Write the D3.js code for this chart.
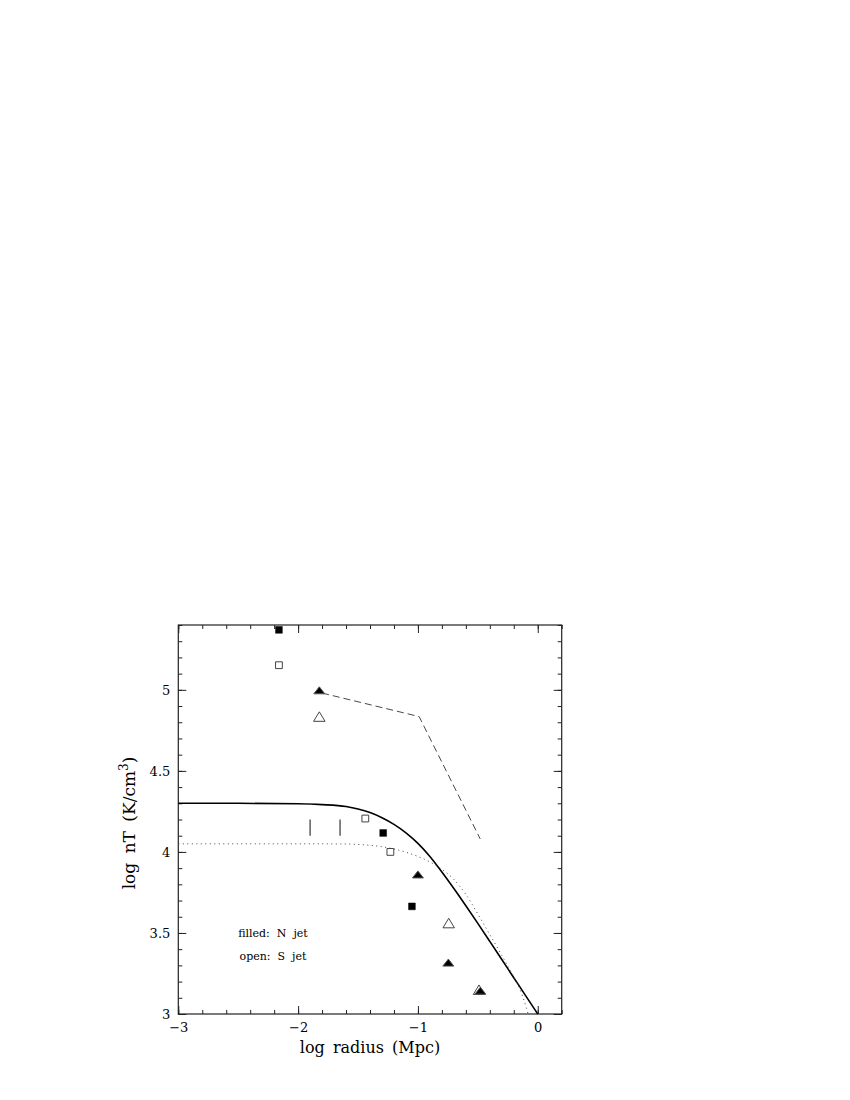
<!DOCTYPE html>
<html>
<head>
<meta charset="utf-8">
<script src="https://cdn.jsdelivr.net/npm/d3@7"></script>
<style>
  html, body { margin: 0; padding: 0; background: #fff; }
  svg { display: block; }
  text { font-family: "DejaVu Serif", "Liberation Serif", serif; fill: #000; }
</style>
</head>
<body>
<svg id="chart" width="850" height="1100"></svg>
<script>
// ---- data ----
const xMajorTicks = [-3, -2, -1, 0];
const xTickLabels = ["\u22123", "\u22122", "\u22121", "0"];
const yMajorTicks = [3, 3.5, 4, 4.5, 5];
const yTickLabels = ["3", "3.5", "4", "4.5", "5"];

// N jet (filled)
const nSquaresX = [-2.16, -1.29, -1.05];
const nSquaresY = [5.37, 4.117, 3.664];
const nTrianglesX = [-1.823, -1.0, -0.746, -0.479];
const nTrianglesY = [4.997, 3.861, 3.317, 3.144];

// S jet (open)
const sSquaresX = [-2.16, -1.439, -1.23];
const sSquaresY = [5.152, 4.206, 4.0];
const sTrianglesX = [-1.823, -0.743, -0.49];
const sTrianglesY = [4.835, 3.561, 3.15];

// solid model curve
const solidX = [-3, -2.5, -2.0, -1.8, -1.6, -1.5, -1.4, -1.3, -1.2, -1.1, -1.0, -0.9, -0.8, -0.7, -0.6, -0.5, -0.4, -0.3, -0.2, -0.1, 0];
const solidY = [4.300, 4.300, 4.297, 4.292, 4.280, 4.265, 4.243, 4.211, 4.170, 4.118, 4.053, 3.972, 3.876, 3.774, 3.668, 3.559, 3.448, 3.336, 3.224, 3.112, 3.0];

// dotted model curve
const dottedX = [-3, -2.0, -1.6, -1.5, -1.4, -1.3, -1.2, -1.1, -1.0, -0.9, -0.8, -0.7, -0.6, -0.5, -0.4, -0.3, -0.2, -0.15, -0.1, -0.08];
const dottedY = [4.050, 4.050, 4.049, 4.046, 4.041, 4.032, 4.018, 3.998, 3.972, 3.938, 3.893, 3.830, 3.738, 3.617, 3.490, 3.362, 3.228, 3.155, 3.050, 3.0];

// dashed line
const dashedX = [-1.80, -0.99, -0.48];
const dashedY = [4.98, 4.835, 4.08];

// vertical bars
const barsX = [-1.90, -1.65];
const barsLow = [4.10, 4.10];
const barsHigh = [4.20, 4.20];

// annotations
const noteLines = ["filled:  N  jet", "open:  S  jet"];
const noteX = [-2.21, -2.21];
const noteY = [3.5, 3.355];

// ---- drawing ----
const svg = d3.select("#chart");
const L = 178.3, R = 561.7, T = 625, B = 1014;
const x = d3.scaleLinear().domain([-3, 0.2]).range([L, R]);
const y = d3.scaleLinear().domain([3, 5.4]).range([B, T]);

const axisColor = "#222";

function styleAxis(g) {
  g.select(".domain").remove();
  g.selectAll(".tick line").attr("stroke", axisColor).attr("stroke-width", 1);
}
const xMinor = x.ticks(16), yMinor = y.ticks(24);

svg.append("g").attr("transform", `translate(0,${B})`)
  .call(d3.axisBottom(x).tickValues(xMinor).tickSize(-4).tickFormat(""))
  .call(styleAxis);
svg.append("g").attr("transform", `translate(0,${B})`)
  .call(d3.axisBottom(x).tickValues(xMajorTicks).tickSize(-8).tickPadding(14)
    .tickFormat((d, i) => xTickLabels[i]))
  .call(styleAxis)
  .call(g => g.selectAll("text").attr("font-size", 13).attr("font-family", "DejaVu Serif").attr("dy", "0.3em"));
svg.append("g").attr("transform", `translate(0,${T})`)
  .call(d3.axisTop(x).tickValues(xMinor).tickSize(-4).tickFormat(""))
  .call(styleAxis);
svg.append("g").attr("transform", `translate(0,${T})`)
  .call(d3.axisTop(x).tickValues(xMajorTicks).tickSize(-8).tickFormat(""))
  .call(styleAxis);

svg.append("g").attr("transform", `translate(${L},0)`)
  .call(d3.axisLeft(y).tickValues(yMinor).tickSize(-4).tickFormat(""))
  .call(styleAxis);
svg.append("g").attr("transform", `translate(${L},0)`)
  .call(d3.axisLeft(y).tickValues(yMajorTicks).tickSize(-8).tickPadding(8)
    .tickFormat((d, i) => yTickLabels[i]))
  .call(styleAxis)
  .call(g => g.selectAll("text").attr("font-size", 13).attr("font-family", "DejaVu Serif"));
svg.append("g").attr("transform", `translate(${R},0)`)
  .call(d3.axisRight(y).tickValues(yMinor).tickSize(-4).tickFormat(""))
  .call(styleAxis);
svg.append("g").attr("transform", `translate(${R},0)`)
  .call(d3.axisRight(y).tickValues(yMajorTicks).tickSize(-8).tickFormat(""))
  .call(styleAxis);

// frame
svg.append("rect").attr("x", L).attr("y", T).attr("width", R - L).attr("height", B - T)
  .attr("fill", "none").attr("stroke", axisColor).attr("stroke-width", 1.2);

// axis titles
svg.append("text").attr("x", (L + R) / 2).attr("y", 1053)
  .attr("text-anchor", "middle").attr("font-size", 16).attr("word-spacing", 3)
  .text("log radius (Mpc)");
const yt = svg.append("text").attr("transform", `translate(135,823) rotate(-90)`)
  .attr("text-anchor", "middle").attr("font-size", 17).attr("word-spacing", 4);
yt.append("tspan").text("log nT (K/cm");
yt.append("tspan").attr("dy", -7).attr("font-size", 12).text("3");
yt.append("tspan").attr("dy", 7).text(")");

// curves
const plot = svg.append("g");
const lineGen = d3.line().x(d => x(d[0])).y(d => y(d[1])).curve(d3.curveMonotoneX);

plot.append("path").datum(solidX.map((v, i) => [v, solidY[i]]))
  .attr("d", lineGen).attr("fill", "none").attr("stroke", "#000").attr("stroke-width", 1.6);

plot.append("path").datum(dottedX.map((v, i) => [v, dottedY[i]]))
  .attr("d", lineGen).attr("fill", "none").attr("stroke", "#444").attr("stroke-width", 1)
  .attr("stroke-dasharray", "1,3.5");

plot.append("path").datum(dashedX.map((v, i) => [v, dashedY[i]]))
  .attr("d", d3.line().x(d => x(d[0])).y(d => y(d[1])))
  .attr("fill", "none").attr("stroke", "#333").attr("stroke-width", 0.9)
  .attr("stroke-dasharray", "7,4");

// vertical bars
plot.selectAll(".bar").data(barsX).enter().append("line")
  .attr("x1", d => x(d)).attr("x2", d => x(d))
  .attr("y1", (d, i) => y(barsLow[i])).attr("y2", (d, i) => y(barsHigh[i]))
  .attr("stroke", "#333").attr("stroke-width", 1.2);

// markers
const sqSym = d3.symbol().type(d3.symbolSquare).size(46);
const tri = (w, h) => `M0,${-h / 2}L${w / 2},${h / 2}L${-w / 2},${h / 2}Z`;

plot.selectAll(".sopen").data(sSquaresX).enter().append("path")
  .attr("d", sqSym).attr("transform", (d, i) => `translate(${x(d)},${y(sSquaresY[i])})`)
  .attr("fill", "#fff").attr("stroke", "#444").attr("stroke-width", 1);
plot.selectAll(".topen").data(sTrianglesX).enter().append("path")
  .attr("d", tri(11.5, 9.5)).attr("transform", (d, i) => `translate(${x(d)},${y(sTrianglesY[i])})`)
  .attr("fill", "#fff").attr("stroke", "#444").attr("stroke-width", 1);
plot.selectAll(".sfill").data(nSquaresX).enter().append("path")
  .attr("d", sqSym).attr("transform", (d, i) => `translate(${x(d)},${y(nSquaresY[i])})`)
  .attr("fill", "#000").attr("stroke", "#000").attr("stroke-width", 0.5);
plot.selectAll(".tfill").data(nTrianglesX).enter().append("path")
  .attr("d", tri(11, 7))
  .attr("transform", (d, i) => `translate(${x(d)},${y(nTrianglesY[i])})`)
  .attr("fill", "#000").attr("stroke", "#555").attr("stroke-width", 1);

// annotations
plot.selectAll(".note").data(noteLines).enter().append("text")
  .attr("x", (d, i) => x(noteX[i])).attr("y", (d, i) => y(noteY[i]))
  .attr("dy", "0.35em").attr("text-anchor", "middle").attr("font-size", 11)
  .attr("xml:space", "preserve").style("white-space", "pre")
  .text(d => d);
</script>
</body>
</html>
